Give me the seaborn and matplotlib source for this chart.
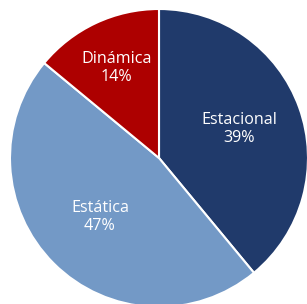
import numpy as np
import matplotlib
matplotlib.use("Agg")
import matplotlib.pyplot as plt
import seaborn as sns

# Slice data, clockwise from 12 o'clock
categories = ["Estacional", "Estática", "Dinámica"]
shares = [39, 47, 14]
slice_colors = ["#203A6B", "#7399C6", "#AD0000"]
# how far from the centre each label sits (fraction of radius)
label_dist = [0.57, 0.56, 0.67]


def main():
    sns.set_theme(style="white")
    plt.rcParams["font.family"] = ["Open Sans", "DejaVu Sans"]

    fig = plt.figure(figsize=(3.07, 3.04), dpi=100)
    ax = fig.add_axes([0, 0, 1, 1])

    palette = sns.color_palette(slice_colors)
    cx, cy, r = 159, 304 - 158, 149
    wedges, _ = ax.pie(shares, colors=palette, startangle=90, counterclock=False,
                       center=(cx, cy), radius=r, frame=True,
                       wedgeprops=dict(edgecolor="white", linewidth=1.5))

    for w, name, val, d in zip(wedges, categories, shares, label_dist):
        mid = np.deg2rad((w.theta1 + w.theta2) / 2)
        x = cx + d * r * np.cos(mid)
        y = cy + d * r * np.sin(mid)
        ax.text(x, y, f"{name}\n{val}%", ha="center", va="center",
                color="white", fontsize=11.6, linespacing=1.15)

    ax.set_xlim(0, 307)
    ax.set_ylim(0, 304)
    ax.set_aspect("equal")
    ax.axis("off")

    fig.savefig("out.png", dpi=100, facecolor="white")


if __name__ == "__main__":
    main()
